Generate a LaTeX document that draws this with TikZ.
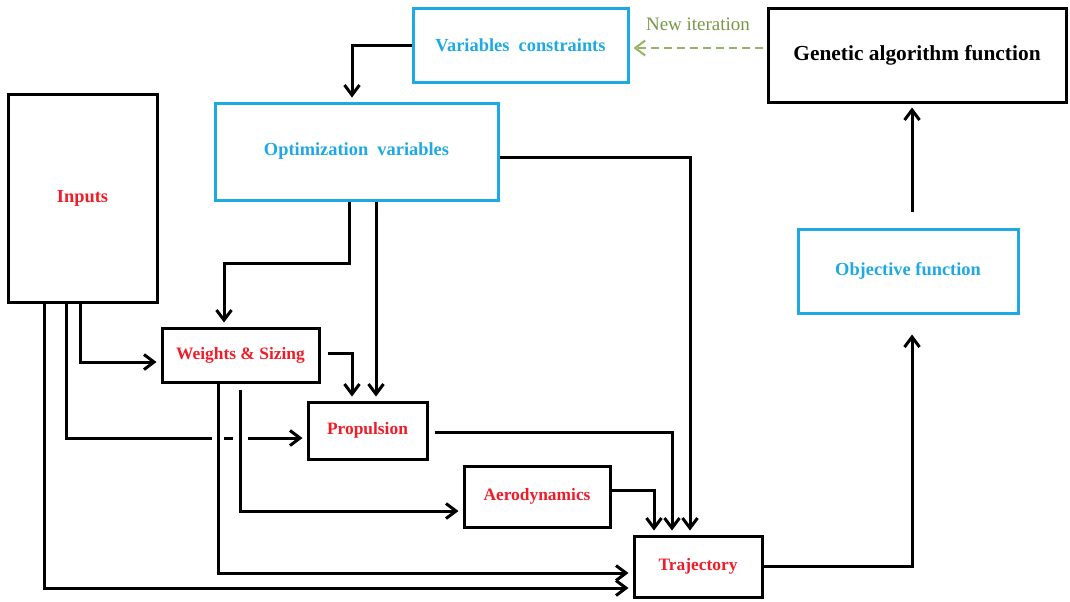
\documentclass[tikz,border=0pt]{standalone}
\usepackage{fontspec}
\setmainfont{Liberation Serif}
\usetikzlibrary{calc,arrows.meta}
\definecolor{skyblue}{RGB}{30,168,228}
\definecolor{boxred}{RGB}{240,28,40}
\definecolor{iterline}{RGB}{150,178,100}
\definecolor{itertext}{RGB}{120,150,70}

\begin{document}
\begin{tikzpicture}[x=0.5pt,y=-0.5pt,line width=1.5pt,
  >={Straight Barb[length=5pt,width=7.5pt]},
  blockbox/.style={draw=black,inner sep=0pt,font=\bfseries\fontsize{10.7}{12}\selectfont},
  varbox/.style={draw=skyblue,text=skyblue,inner sep=0pt,font=\bfseries\fontsize{9.2}{11}\selectfont},
  modbox/.style={draw=black,text=boxred,inner sep=0pt,font=\bfseries\fontsize{8.7}{10}\selectfont},
  link/.style={->,shorten >=2pt},
  newiter/.style={->,draw=iterline,line width=1pt,dash pattern=on 4pt off 2.5pt}]

  \useasboundingbox (0,0) rectangle (1070,601);

  % boxes
  \node[varbox,minimum width=107.5pt,minimum height=37pt] (varc) at (520.5,45) {Variables\ \ constraints};
  \node[blockbox,minimum width=149pt,minimum height=47pt] (gen) at (917,55) {Genetic algorithm function};
  \node[varbox,minimum width=141.5pt,minimum height=48.5pt] (opt) at (356.5,151.5) {Optimization\ \ variables};
  \node[modbox,minimum width=74.5pt,minimum height=104pt,font=\bfseries\fontsize{9.2}{11}\selectfont] (inp) at (82.5,198) {Inputs};
  \node[varbox,minimum width=110pt,minimum height=42pt] (obj) at (908,271) {Objective function};
  \node[modbox,minimum width=78.5pt,minimum height=27pt] (wsz) at (240.5,355) {Weights \& Sizing};
  \node[modbox,minimum width=59.5pt,minimum height=28.5pt] (prop) at (367.5,430.5) {Propulsion};
  \node[modbox,minimum width=73pt,minimum height=30.5pt] (aero) at (537,496.5) {Aerodynamics};
  \node[modbox,minimum width=64pt,minimum height=30.5pt] (traj) at (698,566.5) {Trajectory};

  % feedback loop
  \draw[newiter,shorten <=2pt,shorten >=2pt] ($(gen.west)+(0,-7)$) -- ($(gen.west -| varc.east)+(0,-7)$)
    node[midway,above=5pt,text=itertext,font=\fontsize{9.5}{11}\selectfont] {New iteration};
  \draw[link] (varc.west) -| ([xshift=-2.25pt]opt.north);
  \draw[link,shorten <=8pt] ($(obj.north)+(4,0)$) coordinate (oa) -- (oa |- gen.south);
  \draw[link,shorten >=10pt] (traj.east) -| (oa |- obj.south);

  % optimization variables
  \draw[link] ($(opt.south)+(-7.5,0)$) -- ++(0,62) -| ($(wsz.north)+(-16.5,0)$);
  \draw[link] ($(opt.south)+(19.5,0)$) coordinate (ov) -- (ov |- prop.north);
  \draw[link] ($(opt.east)+(0,5.5)$) -| ($(traj.north)+(-8,0)$);

  % inputs
  \coordinate (inA) at ($(prop.west)+(0,7.5)$);
  \draw[link] ($(inp.south)+(-2.5,0)$) |- ($(wsz.west)+(0,7)$);
  \draw[link] ($(inp.south)+(-16.5,0)$) |- (inA);
  \draw[link] ($(inp.south)+(-38.5,0)$) |- ($(traj.west)+(0,21.5)$);

  % weights & sizing
  \coordinate (wsA) at ($(wsz.south)+(-22.5,0)$);
  \coordinate (wsB) at ($(wsz.south)+(-0.5,6)$);
  \fill[white] ($(wsA |- inA)+(-6,-4)$) rectangle ++(12,8);
  \fill[white] ($(wsB |- inA)+(-7,-4)$) rectangle ++(15,8);
  \draw[link] (wsA) |- ($(traj.west)+(0,6.5)$);
  \draw[link] (wsB) |- ($(aero.west)+(0,14.5)$);
  \draw[link] ($(wsz.east)+(7,-2)$) -| ($(prop.north)+(-15.5,0)$);

  % into trajectory
  \draw[link] ($(prop.east)+(6,1.5)$) -| ($(traj.north)+(-26,0)$);
  \draw[link] ($(aero.east)+(0,-6.5)$) -| ($(traj.north)+(-44,0)$);

\end{tikzpicture}
\end{document}
